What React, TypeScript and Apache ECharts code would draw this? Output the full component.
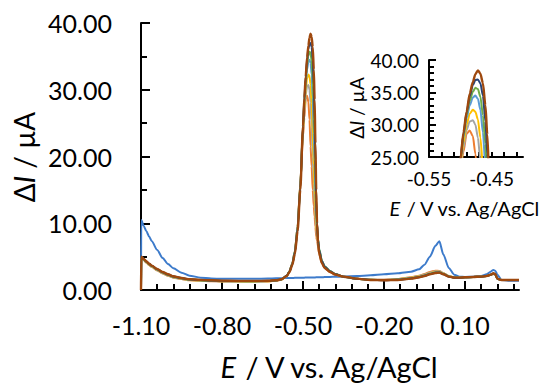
import React, { useEffect, useRef } from 'react';
import * as echarts from 'echarts';

// Potential grid (V vs. Ag/AgCl)
const E_V = [
  -1.100, -1.099, -1.09, -1.08, -1.07, -1.06, -1.04, -1.02, -1.00, -0.98,
  -0.95, -0.92, -0.88, -0.84, -0.80, -0.74, -0.68, -0.63, -0.60, -0.58,
  -0.56, -0.55, -0.54, -0.53, -0.52, -0.51, -0.50, -0.495, -0.49, -0.485,
  -0.48, -0.476, -0.472, -0.468, -0.464, -0.46, -0.457, -0.454, -0.451, -0.448,
  -0.444, -0.44, -0.43, -0.42, -0.40, -0.38, -0.35, -0.30, -0.25, -0.20,
  -0.15, -0.10, -0.07, -0.05, -0.03, -0.01, 0.005, 0.02, 0.04, 0.06,
  0.08, 0.10, 0.13, 0.16, 0.18, 0.195, 0.205, 0.212, 0.22, 0.235,
  0.26, 0.30,
];

// Current (µA) for each trace
const I_BLANK = [
  0, 10.5, 9.6, 8.8, 8.0, 7.3, 6.0, 4.8, 3.9, 3.25,
  2.6, 2.15, 1.85, 1.72, 1.68, 1.67, 1.68, 1.71, 1.75, 1.77,
  1.79, 1.8, 1.81, 1.82, 1.83, 1.84, 1.85, 1.85, 1.86, 1.86,
  1.87, 1.87, 1.88, 1.88, 1.88, 1.89, 1.89, 1.89, 1.9, 1.9,
  1.9, 1.91, 1.92, 1.93, 1.96, 1.98, 2.02, 2.1, 2.2, 2.35,
  2.5, 2.75, 3.1, 3.8, 5.0, 6.6, 7.3, 5.3, 3.3, 2.3,
  2.0, 1.95, 2.0, 2.1, 2.35, 2.75, 3.0, 2.9, 2.3, 1.5,
  1.4, 1.4,
];
const I_C1 = [
  0, 4.85, 4.47, 4.08, 3.73, 3.43, 2.93, 2.48, 2.13, 1.85,
  1.63, 1.47, 1.38, 1.32, 1.27, 1.25, 1.25, 1.29, 1.4, 1.55,
  2.1, 2.8, 3.9, 5.8, 9.5, 16.0, 23.0, 25.8, 28.6, 29.1,
  28.2, 25.5, 21.5, 18.5, 15.0, 12.5, 11.0, 9.5, 8.0, 7.4,
  6.5, 5.4, 4.0, 3.3, 2.7, 2.3, 1.95, 1.7, 1.55, 1.55,
  1.65, 1.9, 2.15, 2.4, 2.7, 2.9, 2.85, 2.5, 2.1, 1.9,
  1.87, 1.9, 1.95, 2.0, 2.1, 2.3, 2.4, 2.3, 1.7, 1.5,
  1.5, 1.5,
];
const I_C2 = [
  0, 4.9, 4.5, 4.12, 3.77, 3.47, 2.97, 2.52, 2.17, 1.88,
  1.66, 1.49, 1.4, 1.34, 1.29, 1.27, 1.27, 1.3, 1.41, 1.55,
  2.1, 2.8, 3.9, 5.8, 9.5, 15.9, 23.6, 26.4, 29.2, 30.5,
  30.7, 30.0, 28.0, 24.5, 20.0, 16.0, 13.0, 10.8, 9.0, 8.0,
  6.9, 5.7, 4.2, 3.4, 2.75, 2.3, 1.95, 1.7, 1.55, 1.52,
  1.62, 1.85, 2.1, 2.32, 2.6, 2.8, 2.8, 2.5, 2.1, 1.9,
  1.87, 1.9, 1.95, 2.0, 2.1, 2.3, 2.4, 2.3, 1.7, 1.5,
  1.5, 1.5,
];
const I_C3 = [
  0, 4.9, 4.53, 4.15, 3.8, 3.5, 3.0, 2.55, 2.2, 1.9,
  1.68, 1.51, 1.42, 1.36, 1.31, 1.28, 1.28, 1.31, 1.42, 1.55,
  2.1, 2.8, 3.9, 5.8, 9.5, 15.8, 24.0, 27.2, 30.0, 31.7,
  32.3, 32.0, 30.8, 28.0, 23.5, 18.5, 15.0, 12.0, 9.8, 8.6,
  7.2, 5.9, 4.3, 3.5, 2.8, 2.35, 2.0, 1.7, 1.52, 1.5,
  1.6, 1.82, 2.05, 2.25, 2.52, 2.72, 2.74, 2.46, 2.07, 1.88,
  1.86, 1.9, 1.95, 2.0, 2.1, 2.3, 2.42, 2.32, 1.7, 1.5,
  1.5, 1.5,
];
const I_C4 = [
  0, 4.95, 4.57, 4.2, 3.85, 3.55, 3.05, 2.6, 2.25, 1.95,
  1.72, 1.55, 1.45, 1.39, 1.34, 1.31, 1.3, 1.33, 1.43, 1.6,
  2.15, 2.8, 3.9, 5.8, 9.5, 15.7, 24.4, 28.0, 31.0, 33.0,
  34.2, 34.5, 34.0, 32.3, 28.8, 23.5, 19.0, 14.5, 11.0, 9.4,
  7.5, 6.1, 4.4, 3.55, 2.85, 2.4, 2.0, 1.7, 1.52, 1.5,
  1.57, 1.78, 2.0, 2.2, 2.47, 2.67, 2.7, 2.43, 2.05, 1.87,
  1.86, 1.9, 1.95, 2.0, 2.1, 2.3, 2.45, 2.35, 1.7, 1.5,
  1.5, 1.5,
];
const I_C5 = [
  0, 4.95, 4.6, 4.23, 3.88, 3.58, 3.08, 2.63, 2.28, 1.98,
  1.75, 1.57, 1.47, 1.41, 1.36, 1.33, 1.32, 1.35, 1.44, 1.6,
  2.15, 2.8, 3.85, 5.7, 9.3, 15.5, 24.5, 28.3, 31.5, 33.7,
  35.1, 35.7, 35.5, 34.3, 31.5, 27.0, 22.0, 16.5, 12.0, 9.8,
  7.6, 6.1, 4.4, 3.55, 2.85, 2.4, 2.0, 1.7, 1.52, 1.48,
  1.55, 1.75, 1.95, 2.15, 2.42, 2.62, 2.65, 2.4, 2.02, 1.86,
  1.85, 1.9, 1.95, 2.0, 2.1, 2.3, 2.45, 2.35, 1.7, 1.5,
  1.5, 1.5,
];
const I_C6 = [
  0, 5.0, 4.63, 4.27, 3.92, 3.62, 3.12, 2.67, 2.32, 2.02,
  1.78, 1.6, 1.5, 1.43, 1.38, 1.35, 1.34, 1.37, 1.45, 1.6,
  2.15, 2.75, 3.8, 5.6, 9.1, 15.3, 24.6, 28.6, 31.9, 34.4,
  36.1, 36.9, 37.0, 36.4, 34.5, 30.5, 25.5, 19.5, 13.5, 10.0,
  7.4, 5.9, 4.3, 3.5, 2.8, 2.35, 2.0, 1.7, 1.5, 1.47,
  1.52, 1.72, 1.92, 2.12, 2.38, 2.58, 2.62, 2.37, 2.0, 1.85,
  1.85, 1.9, 1.95, 2.0, 2.1, 2.3, 2.48, 2.38, 1.7, 1.5,
  1.5, 1.5,
];
const I_C7 = [
  0, 5.0, 4.65, 4.3, 3.95, 3.65, 3.15, 2.7, 2.35, 2.05,
  1.8, 1.62, 1.52, 1.45, 1.4, 1.37, 1.36, 1.38, 1.45, 1.6,
  2.1, 2.7, 3.7, 5.4, 8.8, 15.0, 24.5, 28.8, 32.0, 34.8,
  36.6, 37.8, 38.4, 37.9, 36.4, 33.0, 28.5, 22.0, 15.0, 10.0,
  7.0, 5.5, 4.0, 3.3, 2.7, 2.3, 2.0, 1.7, 1.5, 1.45,
  1.5, 1.7, 1.9, 2.1, 2.35, 2.55, 2.6, 2.35, 2.0, 1.85,
  1.85, 1.9, 1.95, 2.0, 2.1, 2.3, 2.5, 2.4, 1.7, 1.5,
  1.5, 1.5,
];

const TRACES = [I_BLANK, I_C1, I_C2, I_C3, I_C4, I_C5, I_C6, I_C7];
const TRACE_NAMES = ['blank', 'c1', 'c2', 'c3', 'c4', 'c5', 'c6', 'c7'];
const COLORS = ['#3D7BCB', '#ED7D31', '#A5A5A5', '#FFC000', '#5B9BD5', '#70AD47', '#264478', '#9E480E'];

const FONT = 'Lato';
const INK = '#000';

export default function App() {
  const ref = useRef<HTMLDivElement>(null);
  useEffect(() => {
    const chart = echarts.init(ref.current!, null, { renderer: 'svg' });
    const axisLine = { show: true, onZero: false, lineStyle: { color: INK, width: 2 } };
    const hiddenY = (gridIndex: number) => ({ type: 'value', gridIndex, show: false, min: 0, max: 1 });

    const mainSeries = TRACES.map((vals, k) => ({
      name: TRACE_NAMES[k],
      type: 'line',
      xAxisIndex: 0,
      yAxisIndex: 0,
      data: E_V.map((e, i) => [e, vals[i]]),
      showSymbol: false,
      smooth: 0.25,
      smoothMonotone: 'x',
      lineStyle: { color: COLORS[k], width: k === 7 ? 2.4 : 2 },
      itemStyle: { color: COLORS[k] },
      z: 2 + k,
    }));
    const insetSeries = TRACES.slice(1).map((vals, j) => ({
      name: TRACE_NAMES[j + 1] + '-inset',
      type: 'line',
      xAxisIndex: 3,
      yAxisIndex: 3,
      data: E_V.map((e, i) => [e, vals[i]]),
      showSymbol: false,
      smooth: 0.25,
      smoothMonotone: 'x',
      lineStyle: { color: COLORS[j + 1], width: j === 6 ? 2.4 : 2 },
      itemStyle: { color: COLORS[j + 1] },
      z: 2 + j,
    }));

    const option: any = {
      animation: false,
      backgroundColor: '#fff',
      textStyle: { fontFamily: FONT },
      grid: [
        { left: 141, top: 23, width: 378, height: 267 },
        { left: 141, top: 23, width: 324, height: 267 },
        { left: 465, top: 23, width: 48.6, height: 267 },
        { left: 429, top: 60, width: 94, height: 97 },
        { left: 429, top: 60, width: 87.7, height: 97 },
      ],
      xAxis: [
        { type: 'value', gridIndex: 0, min: -1.1, max: 0.3, axisLine, axisTick: { show: false }, axisLabel: { show: false }, splitLine: { show: false } },
        {
          type: 'value', gridIndex: 1, min: 0, max: 1.2, interval: 0.3,
          axisLine: { show: false, onZero: false },
          axisTick: { show: true, inside: true, length: 9, lineStyle: { color: INK, width: 2 } },
          minorTick: { show: true, splitNumber: 5, length: 6, lineStyle: { color: INK, width: 2 } },
          axisLabel: { show: true, margin: 22, fontSize: 25, fontFamily: FONT, color: INK, formatter: (v: number) => (v - 1.1).toFixed(2) },
          splitLine: { show: false }, minorSplitLine: { show: false },
        },
        {
          type: 'value', gridIndex: 2, min: 0, max: 0.18, interval: 0.06,
          axisLine: { show: false, onZero: false },
          axisTick: { show: true, inside: true, length: 6, lineStyle: { color: INK, width: 2 } },
          axisLabel: { show: false }, splitLine: { show: false },
        },
        { type: 'value', gridIndex: 3, min: -0.55, max: -0.4, axisLine, axisTick: { show: false }, axisLabel: { show: false }, splitLine: { show: false } },
        {
          type: 'value', gridIndex: 4, min: 0, max: 0.14, interval: 0.02,
          axisLine: { show: false, onZero: false },
          axisTick: { show: true, inside: true, length: 5, lineStyle: { color: INK, width: 2 } },
          axisLabel: {
            show: true, margin: 12, fontSize: 19, fontFamily: FONT, color: INK,
            formatter: (v: number) => (Math.abs(v * 10 - Math.round(v * 10)) < 1e-6 ? (v - 0.55).toFixed(2) : ''),
          },
          splitLine: { show: false },
        },
      ],
      yAxis: [
        {
          type: 'value', gridIndex: 0, min: 0, max: 40, interval: 10, axisLine,
          axisTick: { show: true, inside: true, length: 9, lineStyle: { color: INK, width: 2 } },
          minorTick: { show: true, splitNumber: 2, length: 6, lineStyle: { color: INK, width: 2 } },
          axisLabel: { margin: 29, fontSize: 25, fontFamily: FONT, color: INK, formatter: (v: number) => v.toFixed(2) },
          splitLine: { show: false }, minorSplitLine: { show: false },
        },
        hiddenY(1),
        hiddenY(2),
        {
          type: 'value', gridIndex: 3, min: 25, max: 40, interval: 5, axisLine,
          axisTick: { show: true, inside: true, length: 7, lineStyle: { color: INK, width: 2 } },
          minorTick: { show: true, splitNumber: 5, length: 5, lineStyle: { color: INK, width: 2 } },
          axisLabel: { margin: 10, fontSize: 19, fontFamily: FONT, color: INK, formatter: (v: number) => v.toFixed(2) },
          splitLine: { show: false }, minorSplitLine: { show: false },
        },
        hiddenY(4),
      ],
      graphic: [
        {
          type: 'text', x: 330, y: 366,
          style: {
            text: '{i|E} / V vs. Ag/AgCl', fontSize: 29, fontFamily: FONT, fill: INK, align: 'center', verticalAlign: 'middle',
            rich: { i: { fontStyle: 'italic', fontSize: 29, fontFamily: FONT, fill: INK } },
          },
        },
        {
          type: 'text', x: 24, y: 157, rotation: Math.PI / 2,
          style: {
            text: 'Δ{i|I} / µA', fontSize: 28, fontFamily: FONT, fill: INK, align: 'center', verticalAlign: 'middle',
            rich: { i: { fontStyle: 'italic', fontSize: 28, fontFamily: FONT, fill: INK } },
          },
        },
        {
          type: 'text', x: 465, y: 208,
          style: {
            text: '{i|E} / V vs. Ag/AgCl', fontSize: 20, fontFamily: FONT, fill: INK, align: 'center', verticalAlign: 'middle',
            rich: { i: { fontStyle: 'italic', fontSize: 20, fontFamily: FONT, fill: INK } },
          },
        },
        {
          type: 'text', x: 356, y: 108, rotation: Math.PI / 2,
          style: {
            text: 'Δ{i|I} / µA', fontSize: 19, fontFamily: FONT, fill: INK, align: 'center', verticalAlign: 'middle',
            rich: { i: { fontStyle: 'italic', fontSize: 19, fontFamily: FONT, fill: INK } },
          },
        },
      ],
      series: [...mainSeries, ...insetSeries],
    };
    chart.setOption(option);
    return () => chart.dispose();
  }, []);
  return <div ref={ref} style={{ position: 'absolute', left: 0, top: 0, width: 550, height: 385 }} />;
}
